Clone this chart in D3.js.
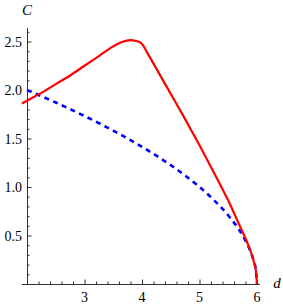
<!DOCTYPE html>
<html><head><meta charset="utf-8">
<script src="https://cdn.jsdelivr.net/npm/d3@7"></script>
<style>body{margin:0;background:#fff}svg{display:block}</style>
</head><body>
<script>
const redD = [1.91, 2.0, 2.25, 2.5, 2.75, 3.0, 3.25, 3.5, 3.65, 3.8, 3.9, 3.97, 4.0, 4.1, 4.25, 4.5, 4.75, 5.0, 5.25, 5.5, 5.7, 5.8, 5.9, 5.95, 5.98, 6.0];
const redC = [1.86, 1.89, 1.97, 2.06, 2.15, 2.25, 2.35, 2.45, 2.495, 2.515, 2.505, 2.49, 2.475, 2.375, 2.22, 1.96, 1.70, 1.43, 1.15, 0.86, 0.60, 0.47, 0.32, 0.22, 0.14, 0.0];
const blueD = [2.0, 2.25, 2.5, 2.75, 3.0, 3.25, 3.5, 3.75, 4.0, 4.25, 4.5, 4.75, 5.0, 5.25, 5.5, 5.7, 5.8, 5.9, 5.95, 5.98, 6.0];
const blueC = [2.0, 1.936, 1.871, 1.803, 1.732, 1.658, 1.581, 1.5, 1.414, 1.323, 1.225, 1.118, 1.0, 0.866, 0.707, 0.548, 0.447, 0.316, 0.224, 0.141, 0.0];
const xTicks = [3, 4, 5, 6];
const yTicks = [0.5, 1.0, 1.5, 2.0, 2.5];

const FONT = "'Liberation Serif', 'Times New Roman', 'DejaVu Serif', serif";
const W = 283, H = 308;
const svg = d3.select("body").append("svg").attr("width", W).attr("height", H);
const x = d3.scaleLinear().domain([2, 6]).range([27, 257]);
const y = d3.scaleLinear().domain([0, 2.5]).range([284, 41.5]);
const xMin = 1.91, yMax = 2.64;

const ax = svg.append("g").attr("stroke", "#333").attr("fill", "none");
ax.append("line").attr("x1", x(xMin)).attr("x2", x(6.05)).attr("y1", y(0)+0.5).attr("y2", y(0)+0.5);
ax.append("line").attr("x1", x(2)+0.5).attr("x2", x(2)+0.5).attr("y1", y(0)).attr("y2", y(yMax));
const xMinor = d3.range(2.2, 6.01, 0.2);
xMinor.forEach(v => {
  const major = Math.abs(v - Math.round(v)) < 1e-6;
  ax.append("line").attr("x1", x(v)+0.5).attr("x2", x(v)+0.5).attr("y1", y(0)).attr("y2", y(0) - (major ? 4.5 : 2.5));
});
const yMinor = d3.range(0.1, yMax, 0.1);
yMinor.forEach(v => {
  const major = Math.abs(v*2 - Math.round(v*2)) < 1e-6;
  ax.append("line").attr("y1", y(v)+0.5).attr("y2", y(v)+0.5).attr("x1", x(2)).attr("x2", x(2) + (major ? 4.5 : 2.5));
});

svg.append("g").selectAll("text").data(xTicks).join("text")
  .attr("x", d => x(d)).attr("y", 302).attr("text-anchor", "middle")
  .attr("font-family", FONT).attr("font-size", 14).text(d => d3.format("d")(d));
svg.append("g").selectAll("text").data(yTicks).join("text")
  .attr("x", 22).attr("y", d => y(d) + 5).attr("text-anchor", "end")
  .attr("font-family", FONT).attr("font-size", 14).text(d => d3.format(".1f")(d));

svg.append("text").attr("x", 27).attr("y", 15).attr("text-anchor", "middle")
  .attr("font-family", FONT).attr("font-size", 15).attr("font-style", "italic").text("C");
svg.append("text").attr("x", 277).attr("y", 288).attr("text-anchor", "middle")
  .attr("font-family", FONT).attr("font-size", 15).attr("font-style", "italic").text("d");

const line = d3.line().x(p => x(p[0])).y(p => y(p[1])).curve(d3.curveMonotoneX);
svg.append("path").datum(blueD.map((d, i) => [d, blueC[i]]))
  .attr("d", line).attr("fill", "none").attr("stroke", "#0000ff")
  .attr("stroke-width", 2.6).attr("stroke-dasharray", "5,4.5");
svg.append("path").datum(redD.map((d, i) => [d, redC[i]]))
  .attr("d", line).attr("fill", "none").attr("stroke", "#ff0000")
  .attr("stroke-width", 2.2).attr("stroke-linejoin", "round");
</script>
</body></html>
